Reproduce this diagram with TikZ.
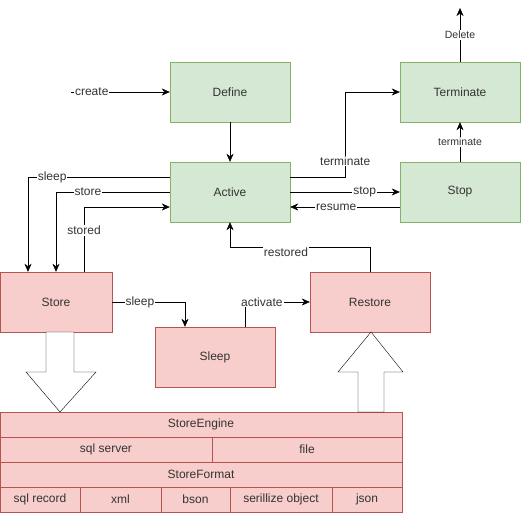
\documentclass[tikz,border=0pt]{standalone}
\usepackage{fontspec}
\setmainfont{Liberation Sans}
\usepackage{tikz}
\usetikzlibrary{arrows,
                arrows.meta,
                calc,
                positioning}
\definecolor{greenfill}{HTML}{D5E8D4}
\definecolor{greenline}{HTML}{82B366}
\definecolor{redfill}{HTML}{F8CECC}
\definecolor{redline}{HTML}{B85450}
\definecolor{textgray}{HTML}{333333}
\tikzstyle{greenbox} = [rectangle, minimum width=120pt, minimum height=60pt, inner sep=0pt, text centered, draw=greenline, fill=greenfill, text=textgray, font=\fontsize{12}{14}\selectfont]
\tikzstyle{redbox} = [greenbox, draw=redline, fill=redfill]
\tikzstyle{cell} = [rectangle, minimum height=25pt, inner sep=0pt, text centered, draw=redline, fill=redfill, text=textgray, font=\fontsize{12}{14}\selectfont]
\tikzstyle{arrow} = [->,>={Stealth[length=8pt, width=7pt, inset=2.5pt]}]
\tikzstyle{lbl} = [fill=white, inner sep=1pt, text=textgray, font=\fontsize{12}{14}\selectfont]
\tikzstyle{smalllbl} = [lbl, font=\fontsize{10.5}{12}\selectfont]
\tikzstyle{blockarrow} = [draw=black, fill=white]

\begin{document}
\begin{tikzpicture}[x=1pt, y=1pt]
\useasboundingbox (0,0) rectangle (521,513);
% states
\node (define) [greenbox] at (230,421) {Define};
\node (active) [greenbox] at (230,321) {Active};
\node (terminate) [greenbox] at (460,421) {Terminate};
\node (stop) [greenbox] at (460,321) {Stop};
\node (store) [redbox, minimum width=112pt] at (56,211) {Store};
\node (sleep) [redbox] at (215,156) {Sleep};
\node (restore) [redbox] at (370,211) {Restore};
% storage table
\node (engine) [cell, minimum width=402pt] at (201,88.5) {StoreEngine};
\node (sqlserver) [cell, minimum width=212pt] at (106,63.5) {sql server};
\node (file) [cell, minimum width=190pt] at (307,63.5) {file};
\node (format) [cell, minimum width=402pt] at (201,38.5) {StoreFormat};
\node (sqlrecord) [cell, minimum width=80pt] at (40,13.5) {sql record};
\node (xml) [cell, minimum width=81pt] at (120.5,13.5) {xml};
\node (bson) [cell, minimum width=69pt] at (195.5,13.5) {bson};
\node (serobj) [cell, minimum width=102pt] at (281,13.5) {serillize object};
\node (json) [cell, minimum width=70pt] at (367,13.5) {json};
% free ends
\coordinate (create) at (71,421);
\coordinate (delete) at (460,505);
% transitions
\draw [arrow] (create) -- node[lbl, pos=0.21] {create} (define);
\draw [arrow] (define) -- (active);
\draw [arrow] ([yshift=15pt]active.west) -| node[lbl, pos=0.415] {sleep} ([xshift=-28pt]store.north);
\draw [arrow] (active.west) -| node[lbl, pos=0.36] {store} (store.north);
\draw [arrow] ([xshift=28pt]store.north) |- node[lbl, pos=0.32] {stored} ([yshift=-15pt]active.west);
\draw [arrow] (restore.north) -- ++(0,25) -| node[lbl, below, inner sep=0.5pt, pos=0.3] {restored} (active.south);
\draw [arrow] ([yshift=15pt]active.east) -- ++(55,0) |- node[lbl, pos=0.094] {terminate} (terminate.west);
\draw [arrow] (active.east) -- node[lbl, pos=0.68] {stop} (stop.west);
\draw [arrow] ([yshift=-15pt]stop.west) -- node[lbl, pos=0.58] {resume} ([yshift=-15pt]active.east);
\draw [arrow] (stop) -- node[smalllbl] {terminate} (terminate);
\draw [arrow] (terminate) -- node[smalllbl] {Delete} (delete);
\draw [arrow] (store.east) -| node[lbl, pos=0.19] {sleep} ([xshift=-30pt]sleep.north);
\draw [arrow] ([xshift=30pt]sleep.north) |- node[lbl, pos=0.63] {activate} (restore.west);
% block arrows
\draw [blockarrow] (46,181) -- (46,141) -- (26,141) -- (60,101) -- (96,141) -- (74,141) -- (74,181) -- cycle;
\draw [blockarrow] (358,101) -- (358,141) -- (338,141) -- (371,181) -- (403,141) -- (384,141) -- (384,101) -- cycle;
\end{tikzpicture}
\end{document}
